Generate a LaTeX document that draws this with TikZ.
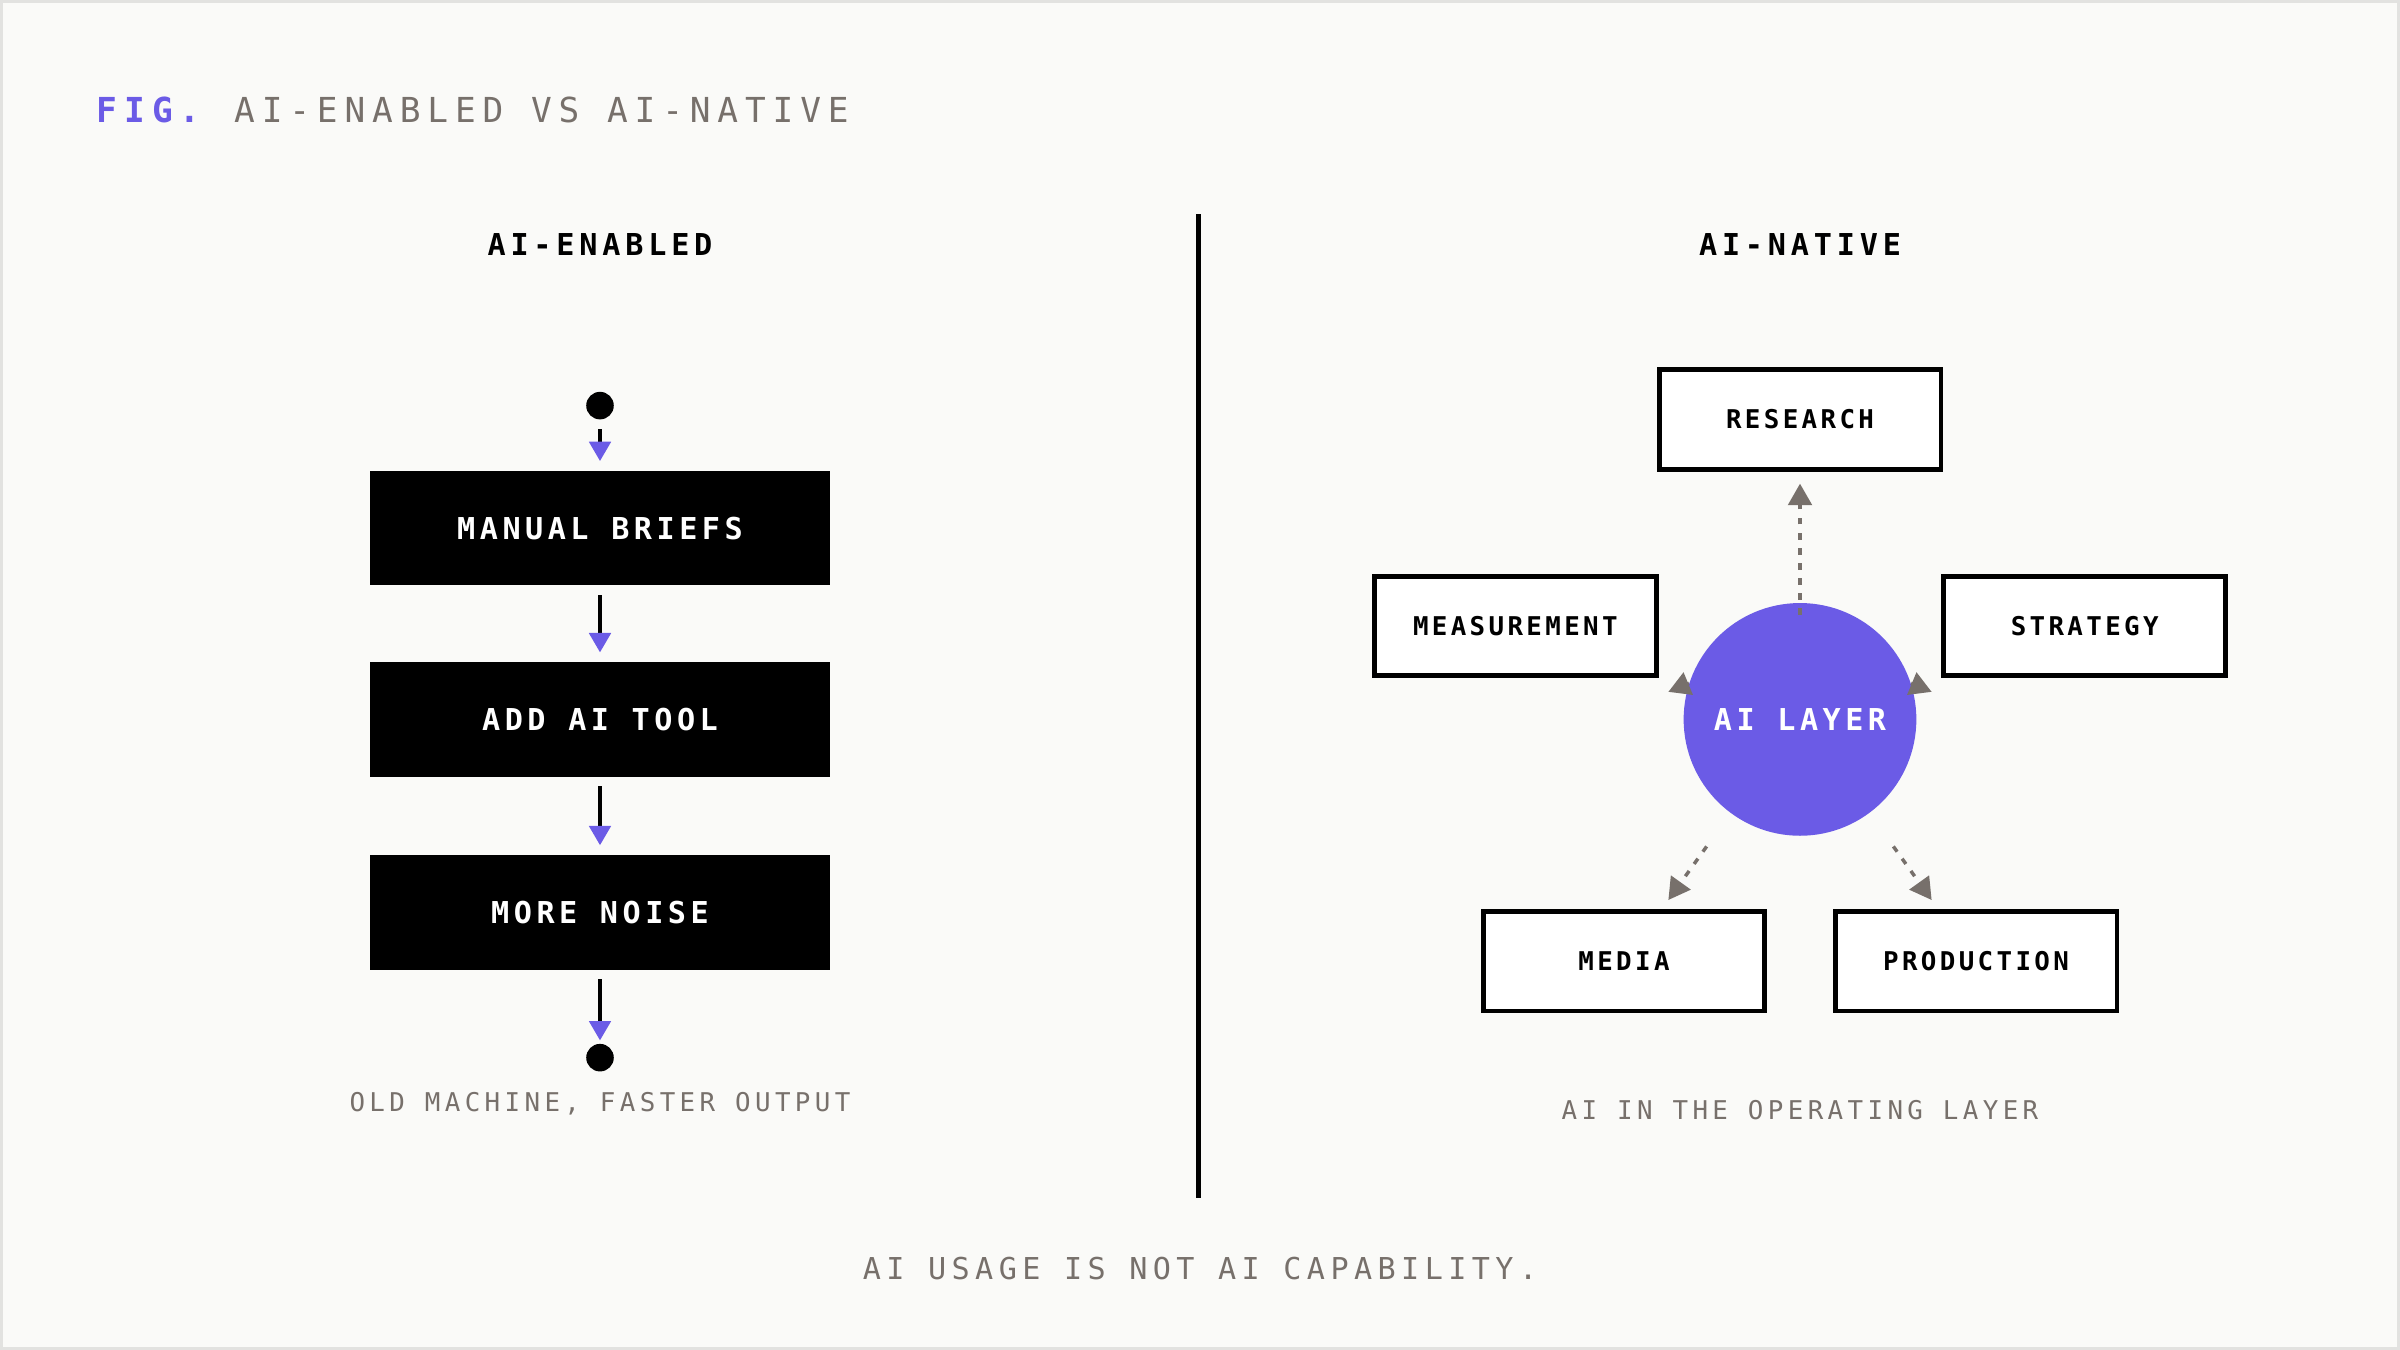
\documentclass[tikz,border=0pt]{standalone}
\usepackage{fontspec}
\setmonofont{DejaVu Sans Mono}
\usetikzlibrary{arrows.meta,positioning}
\definecolor{aiviolet}{HTML}{6B5BE6}
\definecolor{inkgray}{HTML}{77706B}
\definecolor{paper}{HTML}{FAFAF8}
\definecolor{frame}{HTML}{E2E2E0}
\newfontfamily\figfont{DejaVu Sans Mono}[LetterSpace=20]
\newfontfamily\headfont{DejaVu Sans Mono}[LetterSpace=16]
\newfontfamily\boxfont{DejaVu Sans Mono}[LetterSpace=15]
\newfontfamily\moralfont{DejaVu Sans Mono}[LetterSpace=18]
\newfontfamily\smallfont{DejaVu Sans Mono}[LetterSpace=13]
\newfontfamily\capfont{DejaVu Sans Mono}[LetterSpace=17]
\tikzset{
  stepbox/.style={draw=none,fill=black,text=white,minimum width=7.5cm,minimum height=1.875cm,
    font=\boxfont\fontsize{14}{16}\selectfont\bfseries},
  unitbox/.style={draw=black,line width=2.2pt,fill=white,minimum width=4.6cm,minimum height=1.625cm,
    font=\smallfont\fontsize{12}{14}\selectfont\bfseries},
  caption/.style={text=inkgray,font=\capfont\fontsize{12}{14}\selectfont},
  head/.style={font=\headfont\fontsize{14}{16}\selectfont\bfseries},
  flow/.style={line width=1.6pt,shorten >=0.15cm,-{Triangle[length=9pt,width=10pt,color=aiviolet]}},
  link/.style={draw=inkgray,line width=1.6pt,dash pattern=on 3pt off 4pt,
    -{Triangle[length=10pt,width=11pt,color=inkgray]}},
  dot/.style={circle,fill=black,inner sep=0pt,minimum size=0.45cm}
}
\begin{document}
\begin{tikzpicture}[x=0.025cm,y=-0.025cm]
\useasboundingbox (0,0) rectangle (1568,882);
\fill[paper,draw=frame,line width=1.5pt] (1,1) rectangle (1567,881);
% title
\node[anchor=west,inner sep=0pt,font=\figfont\fontsize{16}{18}\selectfont\bfseries] (fig) at (63,72)
  {\textcolor{aiviolet}{FIG.}\hspace{0.55cm}\mdseries\textcolor{inkgray}{AI-ENABLED VS AI-NATIVE}};
\node[head] (lefthead) at (392,160) {AI-ENABLED};
\node[head] (righthead) at (1176,160) {AI-NATIVE};
\coordinate (divtop) at (783,140);
\coordinate (divbot) at (783,783);
\draw[line width=2pt] (divtop) -- (divbot);
% left: ai-enabled
\node[dot] (start) at (392,265) {};
\node[stepbox] (briefs) at (392,345) {MANUAL BRIEFS};
\node[stepbox] (tool) at (392,470) {ADD AI TOOL};
\node[stepbox] (noise) at (392,596) {MORE NOISE};
\node[dot] (finish) at (392,691) {};
\draw[flow] ([yshift=-0.15cm]start.south) -- (briefs.north);
\draw[flow] ([yshift=-0.15cm]briefs.south) -- (tool.north);
\draw[flow] ([yshift=-0.15cm]tool.south) -- (noise.north);
\draw[flow,shorten >=0.05cm] ([yshift=-0.15cm]noise.south) -- (finish.north);
\node[caption] (leftcap) at (392,721) {OLD MACHINE, FASTER OUTPUT};
% right: ai-native
\node[circle,fill=aiviolet,text=white,minimum size=3.8cm,inner sep=0pt,
  font=\boxfont\fontsize{14}{16}\selectfont\bfseries] (layer) at (1176,470) {AI LAYER};
\node[unitbox] (research) at (1176,274) {RESEARCH};
\node[unitbox] (measure) at (990,409) {MEASUREMENT};
\node[unitbox] (strategy) at (1362,409) {STRATEGY};
\node[unitbox] (media) at (1061,628) {MEDIA};
\node[unitbox] (production) at (1291,628) {PRODUCTION};
\coordinate (toresearch) at (1176,316);
\coordinate (tomeasure) at (1090,452);
\coordinate (tostrategy) at (1262,452);
\coordinate (tomedia) at (1090,588);
\coordinate (toproduction) at (1262,588);
\draw[link] (layer.north) ++(0,-0.2cm) -- (toresearch);
\draw[link] (layer.162) -- (tomeasure);
\draw[link] (layer.18) -- (tostrategy);
\draw[link] (1115,553) -- (tomedia);
\draw[link] (1237,553) -- (toproduction);
\node[caption] (rightcap) at (1176,725) {AI IN THE OPERATING LAYER};
\node[text=inkgray,font=\moralfont\fontsize{14}{16}\selectfont] (moral) at (784,829) {AI USAGE IS NOT AI CAPABILITY.};
\end{tikzpicture}
\end{document}
